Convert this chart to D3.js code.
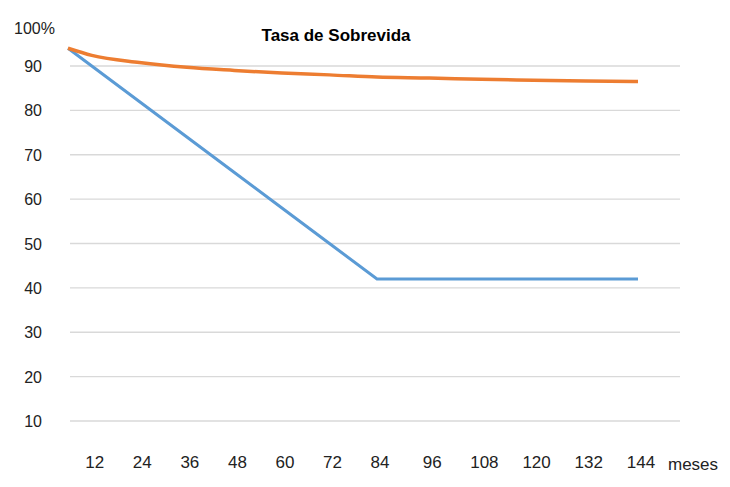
<!DOCTYPE html>
<html><head><meta charset="utf-8">
<script src="https://cdn.jsdelivr.net/npm/d3@7"></script>
<style>body{margin:0;background:#fff}</style></head>
<body><div id="chart"></div>
<script>
var months = [6, 12, 24, 36, 48, 60, 72, 84, 96, 108, 120, 132, 144];
var orange = [94, 92.4, 90.8, 89.7, 89, 88.4, 88, 87.5, 87.3, 87, 86.8, 86.6, 86.5];
var blue = [94, 90, 82, 74, 66, 58, 50, 42, 42, 42, 42, 42, 42];
var xTicks = [12, 24, 36, 48, 60, 72, 84, 96, 108, 120, 132, 144];
var yTicks = [10, 20, 30, 40, 50, 60, 70, 80, 90];

var svg = d3.select("#chart").append("svg").attr("width", 730).attr("height", 487);
var x = d3.scaleLinear().domain([6, 84, 144]).range([68, 377, 638]);
var y = d3.scaleLinear().domain([10, 90]).range([421, 66]);

svg.selectAll(".grid").data(yTicks).enter().append("line")
  .attr("x1", 70).attr("x2", 680)
  .attr("y1", function(d) { return y(d); }).attr("y2", function(d) { return y(d); })
  .style("stroke", "#d9d9d9").style("stroke-width", 1.3);

svg.selectAll(".ylab").data(yTicks).enter().append("text")
  .attr("x", 42)
  .attr("y", function(d) { return y(d) + 6; })
  .attr("text-anchor", "end")
  .style("font-family", "Liberation Sans, Arial").style("font-size", "16px").style("fill", "#222")
  .text(function(d) { return d; });

svg.append("text").attr("x", 14).attr("y", 34)
  .style("font-family", "Liberation Sans, Arial").style("font-size", "16px").style("fill", "#222")
  .text("100%");

svg.selectAll(".xlab").data(xTicks).enter().append("text")
  .attr("x", function(d) { return x(d) + 3; })
  .attr("y", 468)
  .attr("text-anchor", "middle")
  .style("font-family", "Liberation Sans, Arial").style("font-size", "17px").style("fill", "#222")
  .text(function(d) { return d; });

svg.append("text").attr("x", 668).attr("y", 470)
  .style("font-family", "Liberation Sans, Arial").style("font-size", "17px").style("fill", "#222")
  .text("meses");

svg.append("text").attr("x", 336).attr("y", 41).attr("text-anchor", "middle")
  .style("font-family", "Liberation Sans, Arial").style("font-size", "17px").style("font-weight", "bold")
  .text("Tasa de Sobrevida");

var line = d3.line()
  .x(function(d) { return x(d[0]); })
  .y(function(d) { return y(d[1]); });

svg.append("path").datum(d3.zip(months, blue)).attr("d", line)
  .style("fill", "none").style("stroke", "#5b9bd5").style("stroke-width", 3);
svg.append("path").datum(d3.zip(months, orange)).attr("d", line.curve(d3.curveMonotoneX))
  .style("fill", "none").style("stroke", "#ed7d31").style("stroke-width", 3.5);
</script></body></html>
